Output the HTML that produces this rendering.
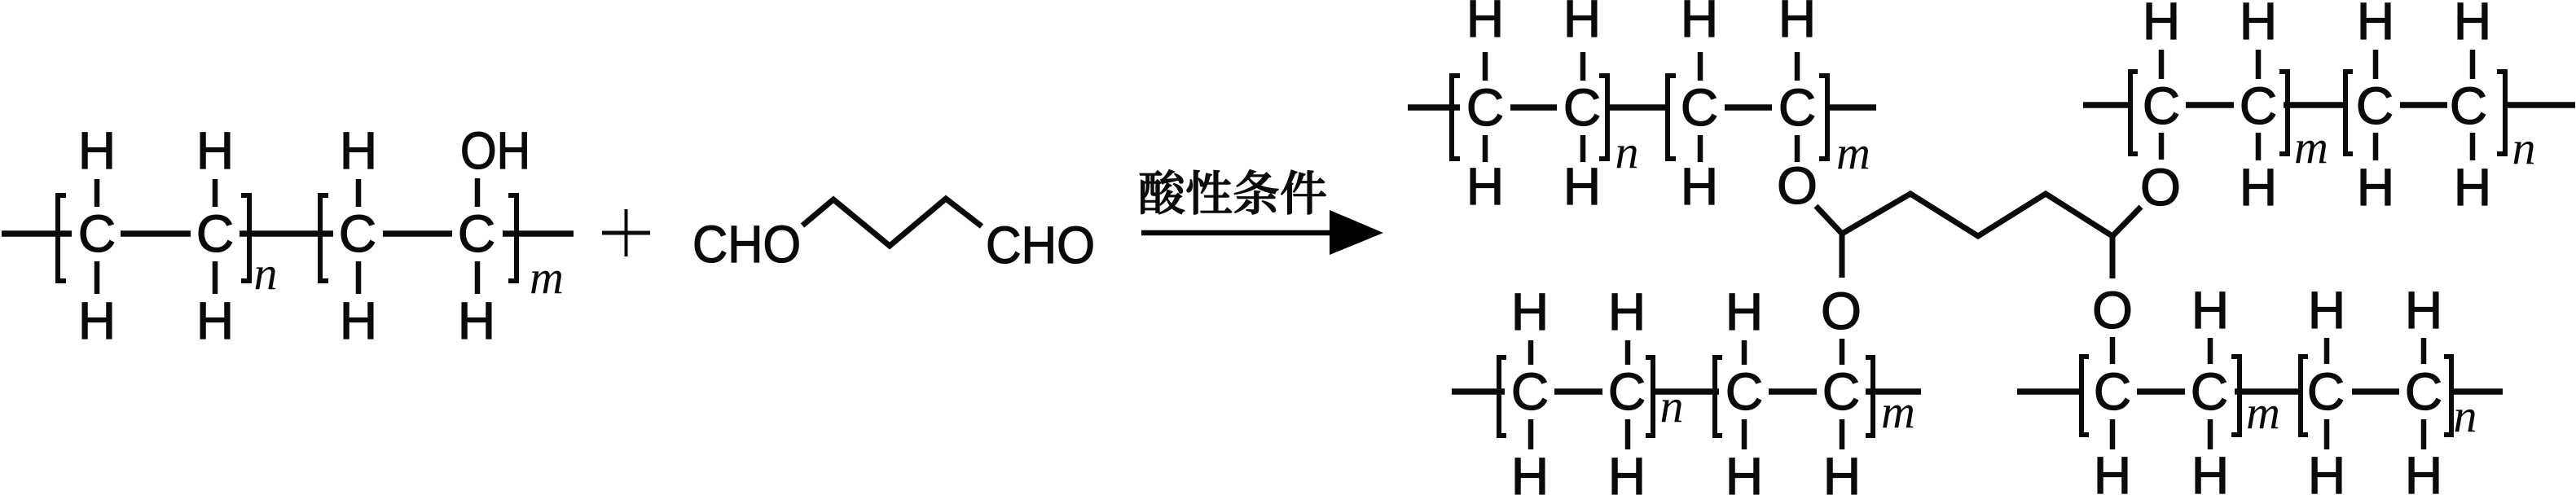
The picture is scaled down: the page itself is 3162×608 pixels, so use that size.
<!DOCTYPE html>
<html><head><meta charset="utf-8">
<style>
html,body{margin:0;padding:0;background:#fff;width:3162px;height:608px;overflow:hidden}
svg{display:block}
text{fill:#0a0a0a}
.a{font:64px "Liberation Sans",sans-serif;text-anchor:middle;stroke:#0a0a0a;stroke-width:1.3}
.s{font:italic 58px "Liberation Serif",serif;text-anchor:middle}
.cjk{font:500 58px "Noto Serif CJK SC","Liberation Serif",serif;stroke:#0a0a0a;stroke-width:1.4}
.m line{stroke:#0a0a0a;stroke-width:7.5}
.v line{stroke:#0a0a0a;stroke-width:6.5}
.b polyline{fill:none;stroke:#0a0a0a;stroke-width:6}
.z polyline,.z line{fill:none;stroke:#0a0a0a;stroke-width:7}
</style></head><body>
<svg width="3162" height="608" viewBox="0 0 3162 608" xmlns="http://www.w3.org/2000/svg">
<rect width="3162" height="608" fill="#fff"/>

<!-- Reactant polymer -->
<g class="m">
<line x1="2" y1="287" x2="88" y2="287"/><line x1="148" y1="287" x2="234" y2="287"/><line x1="294" y1="287" x2="409" y2="287"/><line x1="470" y1="287" x2="555" y2="287"/><line x1="617" y1="287" x2="704" y2="287"/>
</g>
<g class="v">
<line x1="119" y1="220" x2="119" y2="254"/><line x1="264" y1="220" x2="264" y2="254"/><line x1="440" y1="220" x2="440" y2="254"/><line x1="586" y1="219" x2="586" y2="254"/>
<line x1="119" y1="321" x2="119" y2="361"/><line x1="264" y1="321" x2="264" y2="361"/><line x1="440" y1="321" x2="440" y2="361"/><line x1="586" y1="321" x2="586" y2="361"/>
</g>
<g class="b">
<polyline points="81,240 71,240 71,345 81,345"/><polyline points="296,240 306,240 306,345 296,345"/>
<polyline points="403,240 393,240 393,345 403,345"/><polyline points="624,240 634,240 634,345 624,345"/>
</g>
<g class="a">
<text x="119" y="207">H</text><text x="264" y="207">H</text><text x="440" y="207">H</text><text x="565" y="207" style="text-anchor:start" textLength="86" lengthAdjust="spacingAndGlyphs">OH</text>
<text x="119" y="309">C</text><text x="264" y="309">C</text><text x="439" y="309">C</text><text x="585" y="309">C</text>
<text x="119" y="416">H</text><text x="264" y="416">H</text><text x="440" y="416">H</text><text x="585" y="416">H</text>
</g>
<text class="s" x="326" y="355">n</text><text class="s" x="671" y="360">m</text>

<!-- Plus -->
<line x1="739" y1="286" x2="798" y2="286" stroke="#0a0a0a" stroke-width="5"/>
<line x1="768.5" y1="257" x2="768.5" y2="315" stroke="#0a0a0a" stroke-width="4"/>

<!-- Glutaraldehyde -->
<text class="a" x="850" y="322" style="text-anchor:start" textLength="133" lengthAdjust="spacingAndGlyphs">CHO</text>
<text class="a" x="1210" y="323" style="text-anchor:start" textLength="134" lengthAdjust="spacingAndGlyphs">CHO</text>
<g class="z"><polyline points="985,277 1023,245 1092,302 1161,244 1205,278"/></g>

<!-- Arrow -->
<text class="cjk" x="1397" y="258" textLength="232" lengthAdjust="spacingAndGlyphs">酸性条件</text>
<line x1="1401" y1="286" x2="1634" y2="286" stroke="#000" stroke-width="6.5"/>
<polygon points="1632,258 1698,286 1632,313" fill="#000"/>

<!-- Linker -->
<g class="z">
<polyline points="2229,253 2261,287 2345,238 2428,290 2511,238 2593,290 2628,254"/>
<line x1="2261" y1="287" x2="2261" y2="341"/>
<line x1="2593" y1="290" x2="2593" y2="342"/>
</g>

<!-- Top left polymer -->
<g class="m">
<line x1="1728" y1="132" x2="1792" y2="132"/><line x1="1854" y1="132" x2="1911" y2="132"/><line x1="1974" y1="132" x2="2045" y2="132"/><line x1="2117" y1="132" x2="2175" y2="132"/><line x1="2245" y1="132" x2="2303" y2="132"/>
</g>
<g class="v">
<line x1="1823" y1="64" x2="1823" y2="99"/><line x1="1943" y1="64" x2="1943" y2="99"/><line x1="2087" y1="64" x2="2087" y2="99"/><line x1="2206" y1="64" x2="2206" y2="99"/>
<line x1="1823" y1="166" x2="1823" y2="199"/><line x1="1943" y1="166" x2="1943" y2="199"/><line x1="2087" y1="166" x2="2087" y2="199"/><line x1="2206" y1="166" x2="2206" y2="199"/>
</g>
<g class="b">
<polyline points="1792,93 1782,93 1782,195 1792,195"/><polyline points="1963,93 1973,93 1973,195 1963,195"/>
<polyline points="2057,93 2047,93 2047,195 2057,195"/><polyline points="2233,93 2243,93 2243,195 2233,195"/>
</g>
<g class="a">
<text x="1823" y="45">H</text><text x="1942" y="45">H</text><text x="2086" y="45">H</text><text x="2206" y="45">H</text>
<text x="1823" y="154">C</text><text x="1942" y="154">C</text><text x="2086" y="154">C</text><text x="2206" y="154">C</text>
<text x="1823" y="251">H</text><text x="1942" y="251">H</text><text x="2086" y="251">H</text><text x="2206" y="250">O</text>
</g>
<text class="s" x="1997" y="206">n</text><text class="s" x="2275" y="207">m</text>

<!-- Top right polymer -->
<g class="m">
<line x1="2557" y1="129" x2="2616" y2="129"/><line x1="2683" y1="129" x2="2742" y2="129"/><line x1="2803" y1="129" x2="2879" y2="129"/><line x1="2946" y1="129" x2="3004" y2="129"/><line x1="3077" y1="129" x2="3161" y2="129"/>
</g>
<g class="v">
<line x1="2653" y1="61" x2="2653" y2="97"/><line x1="2772" y1="61" x2="2772" y2="97"/><line x1="2916" y1="61" x2="2916" y2="97"/><line x1="3035" y1="61" x2="3035" y2="97"/>
<line x1="2653" y1="163" x2="2653" y2="196"/><line x1="2772" y1="163" x2="2772" y2="197"/><line x1="2916" y1="163" x2="2916" y2="197"/><line x1="3035" y1="163" x2="3035" y2="197"/>
</g>
<g class="b">
<polyline points="2624,88 2615,88 2615,189 2624,189"/><polyline points="2798,88 2808,88 2808,189 2798,189"/>
<polyline points="2888,88 2879,88 2879,189 2888,189"/><polyline points="3065,88 3075,88 3075,189 3065,189"/>
</g>
<g class="a">
<text x="2653" y="48">H</text><text x="2772" y="48">H</text><text x="2916" y="48">H</text><text x="3035" y="48">H</text>
<text x="2653" y="152">C</text><text x="2772" y="152">C</text><text x="2915" y="152">C</text><text x="3030" y="152">C</text>
<text x="2652" y="252">O</text><text x="2772" y="252">H</text><text x="2916" y="252">H</text><text x="3035" y="252">H</text>
</g>
<text class="s" x="2837" y="200">m</text><text class="s" x="3098" y="201">n</text>

<!-- Bottom left polymer -->
<g class="m">
<line x1="1782" y1="481" x2="1847" y2="481"/><line x1="1908" y1="481" x2="1967" y2="481"/><line x1="2028" y1="481" x2="2110" y2="481"/><line x1="2171" y1="481" x2="2230" y2="481"/><line x1="2290" y1="481" x2="2358" y2="481"/>
</g>
<g class="v">
<line x1="1879" y1="418" x2="1879" y2="448"/><line x1="1998" y1="418" x2="1998" y2="448"/><line x1="2141" y1="418" x2="2141" y2="448"/><line x1="2261" y1="416" x2="2261" y2="448"/>
<line x1="1879" y1="515" x2="1879" y2="552"/><line x1="1998" y1="515" x2="1998" y2="552"/><line x1="2141" y1="515" x2="2141" y2="552"/><line x1="2261" y1="515" x2="2261" y2="552"/>
</g>
<g class="b">
<polyline points="1849,439 1840,439 1840,535 1849,535"/><polyline points="2020,439 2029,439 2029,535 2020,535"/>
<polyline points="2114,439 2105,439 2105,535 2114,535"/><polyline points="2290,439 2299,439 2299,535 2290,535"/>
</g>
<g class="a">
<text x="1878" y="405">H</text><text x="1997" y="405">H</text><text x="2141" y="405">H</text><text x="2260" y="404">O</text>
<text x="1878" y="503">C</text><text x="1997" y="503">C</text><text x="2141" y="503">C</text><text x="2260" y="503">C</text>
<text x="1878" y="607">H</text><text x="1997" y="607">H</text><text x="2141" y="607">H</text><text x="2261" y="607">H</text>
</g>
<text class="s" x="2052" y="518">n</text><text class="s" x="2330" y="525">m</text>

<!-- Bottom right polymer -->
<g class="m">
<line x1="2476" y1="481" x2="2555" y2="481"/><line x1="2623" y1="481" x2="2682" y2="481"/><line x1="2743" y1="481" x2="2822" y2="481"/><line x1="2887" y1="481" x2="2945" y2="481"/><line x1="3010" y1="481" x2="3072" y2="481"/>
</g>
<g class="v">
<line x1="2593" y1="414" x2="2593" y2="447"/><line x1="2713" y1="415" x2="2713" y2="447"/><line x1="2856" y1="415" x2="2856" y2="447"/><line x1="2975" y1="415" x2="2975" y2="447"/>
<line x1="2593" y1="515" x2="2593" y2="552"/><line x1="2713" y1="515" x2="2713" y2="552"/><line x1="2856" y1="515" x2="2856" y2="552"/><line x1="2975" y1="515" x2="2975" y2="552"/>
</g>
<g class="b">
<polyline points="2564,438 2555,438 2555,534 2564,534"/><polyline points="2739,438 2749,438 2749,534 2739,534"/>
<polyline points="2833,438 2824,438 2824,534 2833,534"/><polyline points="3000,438 3009,438 3009,534 3000,534"/>
</g>
<g class="a">
<text x="2593" y="403">O</text><text x="2713" y="403">H</text><text x="2856" y="403">H</text><text x="2975" y="403">H</text>
<text x="2593" y="503">C</text><text x="2712" y="503">C</text><text x="2855" y="503">C</text><text x="2975" y="503">C</text>
<text x="2593" y="606">H</text><text x="2713" y="606">H</text><text x="2856" y="606">H</text><text x="2975" y="606">H</text>
</g>
<text class="s" x="2778" y="526">m</text><text class="s" x="3026" y="530">n</text>
</svg>
</body></html>
